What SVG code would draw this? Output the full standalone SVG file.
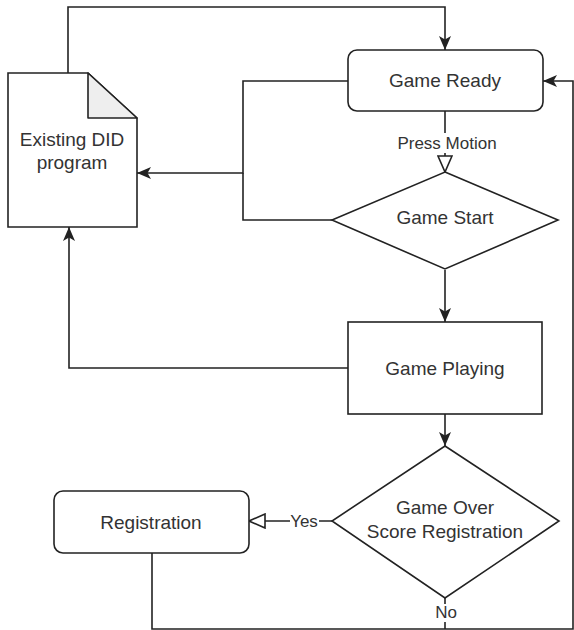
<svg xmlns="http://www.w3.org/2000/svg" width="574" height="630" viewBox="0 0 574 630">
<defs>
<style>
.node{fill:#fff;stroke:#222;stroke-width:1.6}
.fold{fill:#eee;stroke:#222;stroke-width:1.6;stroke-linejoin:round}
.edge{fill:none;stroke:#222;stroke-width:1.6}
.t{font-family:"Liberation Sans",Arial,Helvetica,sans-serif;font-size:19px;fill:#333;text-anchor:middle}
.lbl{font-family:"Liberation Sans",Arial,Helvetica,sans-serif;font-size:17px;fill:#333;text-anchor:middle}
.bg{fill:#fff}
</style>
<marker id="arr" markerUnits="userSpaceOnUse" markerWidth="14" markerHeight="12" viewBox="0 0 14 12" refX="14" refY="6" orient="auto">
<path d="M0,0 L14,6 L0,12 L3.5,6 Z" fill="#222"/>
</marker>
<marker id="hollow" markerUnits="userSpaceOnUse" markerWidth="18" markerHeight="16" viewBox="-1 -1 18 16" refX="16" refY="7" orient="auto">
<path d="M0,0 L16,7 L0,14 Z" fill="#fff" stroke="#222" stroke-width="1.6"/>
</marker>
</defs>
<g id="connectors">
<path class="edge" d="M68,73 V7 H445 V50" marker-end="url(#arr)"/>
<path class="edge" d="M348,81 H243 V173 H137" marker-end="url(#arr)"/>
<path class="edge" d="M332,220 H243 V173"/>
<path class="edge" d="M445,111 V172" marker-end="url(#hollow)"/>
<path class="edge" d="M445,270 V322" marker-end="url(#arr)"/>
<path class="edge" d="M348,368 H69 V227" marker-end="url(#arr)"/>
<path class="edge" d="M445,414 V446" marker-end="url(#arr)"/>
<path class="edge" d="M332,521 H249" marker-end="url(#hollow)"/>
<path class="edge" d="M445,598 V629"/>
<path class="edge" d="M152,553 V629 H573 V81 H543" marker-end="url(#arr)"/>
<rect class="bg" x="395" y="133" width="100" height="20"/>
<text class="lbl" x="447" y="149">Press Motion</text>
<rect class="bg" x="290" y="512" width="29" height="19"/>
<text class="lbl" x="304" y="527">Yes</text>
<rect class="bg" x="434" y="604" width="22" height="18"/>
<text class="lbl" x="446" y="618">No</text>
</g>
<g id="existing-did">
<path class="node" d="M8,73 H88 L137,118 V227 H8 Z"/>
<path class="fold" d="M88,73 V118 H137 Z"/>
<text class="t" x="72" y="146">Existing DID</text>
<text class="t" x="72" y="169">program</text>
</g>
<g id="game-ready">
<rect class="node" x="348" y="50" width="195" height="61" rx="9"/>
<text class="t" x="445" y="87">Game Ready</text>
</g>
<g id="game-start">
<path class="node" d="M445,172 L558,220 L445,269 L332,220 Z"/>
<text class="t" x="445" y="224">Game Start</text>
</g>
<g id="game-playing">
<rect class="node" x="348" y="322" width="194" height="92"/>
<text class="t" x="445" y="375">Game Playing</text>
</g>
<g id="game-over">
<path class="node" d="M445,446 L559,521 L445,598 L332,521 Z"/>
<text class="t" x="445" y="514">Game Over</text>
<text class="t" x="445" y="538">Score Registration</text>
</g>
<g id="registration">
<rect class="node" x="54" y="491" width="195" height="62" rx="9"/>
<text class="t" x="151" y="529">Registration</text>
</g>
</svg>
